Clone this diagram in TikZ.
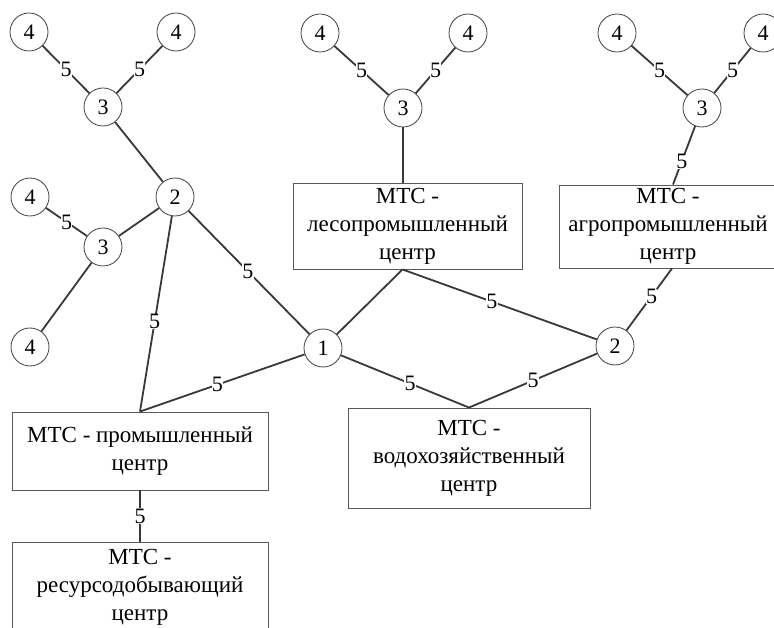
\documentclass[tikz,border=0pt]{standalone}
\usepackage{fontspec}
\setmainfont{Liberation Serif}
\usetikzlibrary{calc}
\begin{document}
\begin{tikzpicture}[x=1pt,y=-1pt,
  every node/.style={font=\rmfamily\fontsize{23}{28}\selectfont, text=black},
  circ/.style={circle, draw=black!75, line width=0.8pt, minimum size=38pt, inner sep=0pt, fill=white, font=\rmfamily\fontsize{22}{24}\selectfont},
  mtsbox/.style={rectangle, draw=black!65, line width=0.9pt, inner sep=0pt, align=center, fill=white},
  conn/.style={draw=black!78, line width=1.8pt},
  lbl/.style={fill=white, inner sep=0.3pt, font=\rmfamily\fontsize{22}{24}\selectfont}
]
\useasboundingbox (0,0) rectangle (774,628);
% circles
\node[circ] (a4a) at (29,32) {4};
\node[circ] (a4b) at (176,32) {4};
\node[circ] (a3) at (103,107) {3};
\node[circ] (n2l) at (175,197) {2};
\node[circ] (b4a) at (30,197) {4};
\node[circ] (b3) at (103,247) {3};
\node[circ] (b4b) at (30,347) {4};
\node[circ] (n1) at (323,348) {1};
\node[circ] (c4a) at (320,33) {4};
\node[circ] (c4b) at (468,33) {4};
\node[circ] (c3) at (403,108) {3};
\node[circ] (d4a) at (617,33) {4};
\node[circ] (d4b) at (763,33) {4};
\node[circ] (d3) at (702,108) {3};
\node[circ] (n2r) at (615,346) {2};
% boxes
\node[mtsbox, minimum width=229pt, minimum height=86pt] (les) at (407.5,226) {МТС -\\лесопромышленный\\центр};
\node[mtsbox, minimum width=218pt, minimum height=83pt] (agro) at (668,226.5) {МТС -\\агропромышленный\\центр};
\node[mtsbox, minimum width=256pt, minimum height=78pt] (prom) at (140,451) {МТС - промышленный\\центр};
\node[mtsbox, minimum width=256pt, minimum height=90pt] (res) at (140,587) {МТС -\\ресурсодобывающий\\центр};
\node[mtsbox, minimum width=242pt, minimum height=100pt] (vodo) at (469,458) {МТС -\\водохозяйственный\\центр};
% anchor points
\coordinate (lesS) at ($(les.south)+(-5,0)$);
\coordinate (agroN) at ($(agro.north)+(5,0)$);
\coordinate (agroS) at ($(agro.south)+(4,0)$);
% edges
\draw[conn] (a4a) -- node[lbl]{5} (a3);
\draw[conn] (a4b) -- node[lbl]{5} (a3);
\draw[conn] (a3) -- (n2l);
\draw[conn] (b4a) -- node[lbl]{5} (b3);
\draw[conn] (b3) -- (b4b);
\draw[conn] (n2l) -- (b3);
\draw[conn] (n2l) -- node[lbl, pos=0.54]{5} (prom.north);
\draw[conn] (n2l) -- node[lbl, pos=0.49]{5} (n1);
\draw[conn] (n1) -- node[lbl, pos=0.53]{5} (prom.north);
\draw[conn] (n1) -- (lesS);
\draw[conn] (lesS) -- node[lbl, pos=0.46]{5} (n2r);
\draw[conn] (n1) -- node[lbl, pos=0.54]{5} (vodo.north);
\draw[conn] (n2r) -- node[lbl, pos=0.5]{5} (vodo.north);
\draw[conn] (c3) -- (les.north -| c3);
\draw[conn] (c4a) -- node[lbl]{5} (c3);
\draw[conn] (c4b) -- node[lbl]{5} (c3);
\draw[conn] (d4a) -- node[lbl]{5} (d3);
\draw[conn] (d4b) -- node[lbl]{5} (d3);
\draw[conn] (d3) -- node[lbl, pos=0.6]{5} (agroN);
\draw[conn] (agroS) -- node[lbl, pos=0.45]{5} (n2r);
\draw[conn] (prom.south) -- node[lbl]{5} (res.north);
\end{tikzpicture}
\end{document}
